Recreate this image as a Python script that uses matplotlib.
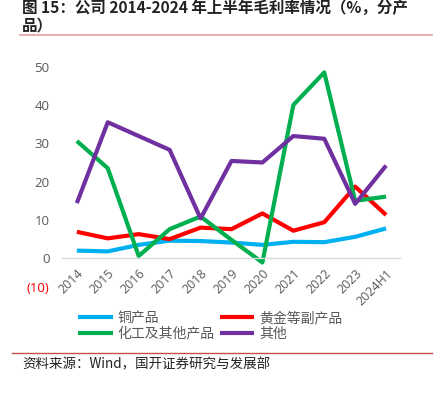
import numpy as np
import matplotlib
matplotlib.use("Agg")
import matplotlib.pyplot as plt
from matplotlib.lines import Line2D

plt.rcParams['font.family'] = ['Noto Sans CJK SC', 'DejaVu Sans']

years = ['2014', '2015', '2016', '2017', '2018', '2019', '2020',
         '2021', '2022', '2023', '2024H1']
copper = [2.0, 1.8, 3.5, 4.6, 4.5, 4.1, 3.5, 4.3, 4.2, 5.6, 7.8]
gold = [6.9, 5.2, 6.3, 5.0, 8.0, 7.6, 11.7, 7.2, 9.4, 18.7, 11.3]
chem = [30.6, 23.5, 0.6, 7.6, 10.9, 4.8, -1.1, 40.0, 48.5, 15.0, 16.1]
other = [14.4, 35.5, 31.9, 28.3, 10.4, 25.4, 25.0, 31.9, 31.2, 14.2, 24.2]
names = ['铜产品', '黄金等副产品', '化工及其他产品', '其他']
colors = ['#00B0F0', '#FF0000', '#00B050', '#7030A0']
yticks = [0, 10, 20, 30, 40, 50]
ytick_labels = ['0', '10', '20', '30', '40', '50']
ymin = -10

grey = '#595959'
fig = plt.figure(figsize=(4.37, 3.93), dpi=100)
ax = fig.add_axes([0.1419, 0.2453, 0.7735, 0.585])

x = np.arange(len(years))
for vals, c, n in zip([copper, gold, chem, other], colors, names):
    ax.plot(x, vals, color=c, lw=3, label=n, solid_capstyle='butt')

ax.set_xlim(-0.48, len(years) - 1 + 0.45)
ax.set_ylim(ymin, 50)
for s in ['top', 'right', 'left']:
    ax.spines[s].set_visible(False)
ax.spines['bottom'].set_position(('data', 0))
ax.spines['bottom'].set_color('#D9D9D9')
ax.spines['bottom'].set_linewidth(1)

ax.set_xticks(x)
ax.set_xticklabels(years, rotation=45, ha='right', va='top',
                   rotation_mode='anchor', color=grey, fontsize=9,
                   family=['Open Sans', 'DejaVu Sans'])
ax.tick_params(axis='x', length=0, pad=6)
ax.set_yticks(yticks)
ax.set_yticklabels(ytick_labels, color=grey, fontsize=9.5,
                   family=['Open Sans', 'DejaVu Sans'])
ax.tick_params(axis='y', length=0, pad=9)
# the negative tick label sits a little higher in the original
ax.annotate('(%d)' % abs(ymin), xy=(0, ymin), xycoords=('axes fraction', 'data'),
            xytext=(-9, 6), textcoords='offset points', ha='right', va='center',
            color='#FF0000', fontsize=9.5, family=['Open Sans', 'DejaVu Sans'])

h, l = ax.get_legend_handles_labels()
order = [0, 2, 1, 3]
fig.legend([h[i] for i in order], [l[i] for i in order], ncol=2,
           loc='upper left', bbox_to_anchor=(78 / 437, 1 - 311 / 393),
           frameon=False, fontsize=10, handlelength=2.5, handletextpad=0.35,
           columnspacing=0.35, labelspacing=0.12, borderpad=0,
           borderaxespad=0, labelcolor=grey)

fig.text(22 / 437, 1 - 8 / 393, '图 15：公司 2014-2024 年上半年毛利率情况（%，分产',
         fontsize=11.2, fontweight='bold', color='#222222', va='center')
fig.text(22 / 437, 1 - 25 / 393, '品）', fontsize=11.2, fontweight='bold',
         color='#222222', va='center')
fig.add_artist(Line2D([20 / 437, 432 / 437], [1 - 35 / 393] * 2,
                      color='#E8A0A0', lw=1.2))
fig.add_artist(Line2D([12 / 437, 432 / 437], [1 - 353 / 393] * 2,
                      color='#C0504D', lw=1))
fig.text(22 / 437, 1 - 364 / 393, '资料来源：Wind，国开证券研究与发展部',
         fontsize=9.7, color='#222222', va='center')

fig.savefig('out.png', dpi=100)
